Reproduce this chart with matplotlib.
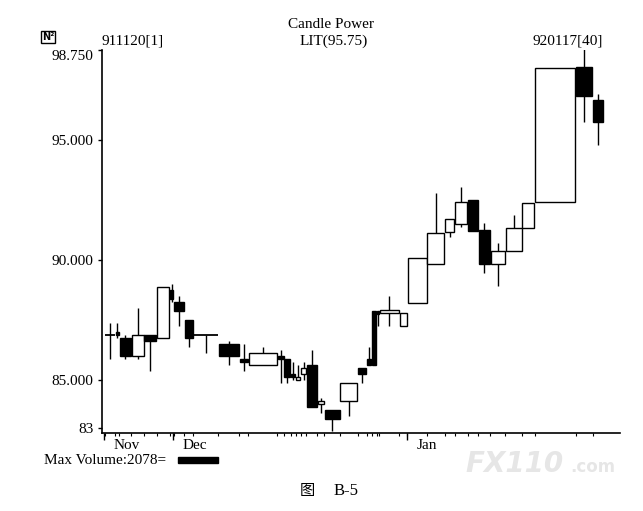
import numpy as np
import matplotlib.pyplot as plt
from matplotlib.patches import Rectangle
import matplotlib.transforms as mtransforms

# -------------------------------
# Data: LIT daily candles 911120 .. 920117 (40 sessions)
# -------------------------------
opens = [86.875, 87.0, 86.75, 86.0, 86.875, 86.75, 88.75, 88.25, 87.5, 86.875,
         86.5, 85.875, 85.625, 86.0, 85.875, 85.25, 85.0, 85.25, 85.625, 84.0,
         83.75, 84.125, 85.5, 85.875, 87.875, 87.875, 87.8, 87.25, 88.2, 89.83,
         91.18, 91.5, 92.5, 91.25, 89.83, 90.375, 91.35, 92.42, 98.03, 96.67]
highs = [87.375, 87.375, 86.875, 88.0, 86.875, 88.875, 89.0, 88.5, 87.5, 86.875,
         86.625, 86.5, 86.375, 86.25, 85.875, 85.75, 85.625, 85.75, 86.25, 84.25,
         83.75, 84.875, 85.5, 86.375, 87.875, 87.875, 88.5, 87.8, 90.1, 92.78,
         91.71, 93.03, 92.5, 91.53, 90.72, 91.875, 92.39, 98.0, 98.78, 96.9]
lows = [85.875, 86.75, 85.875, 85.875, 85.375, 86.75, 88.25, 87.25, 86.375, 86.125,
        85.625, 85.375, 85.625, 84.875, 84.875, 85.0, 85.0, 85.0, 83.875, 83.625,
        82.875, 83.5, 84.875, 85.625, 85.625, 87.25, 87.25, 87.25, 88.2, 89.83,
        90.94, 91.39, 91.22, 89.45, 88.92, 90.375, 91.35, 92.42, 95.76, 94.79]
closes = [86.875, 86.875, 86.0, 86.875, 86.625, 88.875, 88.375, 87.875, 86.75, 86.875,
          86.0, 85.75, 86.125, 85.875, 85.125, 85.125, 85.125, 85.5, 83.875, 84.125,
          83.375, 84.875, 85.25, 85.625, 85.625, 87.75, 87.92, 87.8, 90.1, 91.11,
          91.71, 92.4, 91.22, 89.83, 90.375, 91.35, 92.39, 98.0, 96.85, 95.75]
volumes = [520, 160, 570, 620, 620, 620, 160, 520, 420, 1250,
           1040, 420, 1460, 310, 310, 210, 210, 260, 520, 310,
           780, 880, 420, 210, 210, 100, 990, 360, 990, 880,
           470, 620, 520, 570, 730, 830, 620, 2078, 830, 520]

month_labels = ['Nov', 'Dec', 'Jan']
month_first = [0, 7, 28]          # first candle of each month
ytick_vals = [83, 85, 90, 95, 98.75]
ytick_labels = ['83', '85.000', '90.000', '95.000', '98.750']
max_volume = 2078

# -------------------------------
# Figure setup
# -------------------------------
W, H = 643, 511
plt.rcParams['font.family'] = ['Liberation Serif', 'Noto Sans CJK SC']
fig = plt.figure(figsize=(W / 100, H / 100), dpi=100, facecolor='white')
ax = fig.add_axes([102 / W, (H - 433) / H, (620 - 102) / W, (433 - 50) / H])

gap = 45     # space between candles (volume units)
px = 52      # volume units per pixel, roughly

# candle left edges
lefts = []
x = 0
for v in volumes:
    lefts.append(x)
    x += v + gap
total = x - gap

lw = 1.0
for i in range(len(volumes)):
    o, h, l, c, v = opens[i], highs[i], lows[i], closes[i], volumes[i]
    left = lefts[i]
    mid = left + v / 2
    ax.vlines(mid, l, h, color='black', lw=lw, zorder=2)
    if o == c:
        ax.hlines(o, left, left + v, color='black', lw=1.3, zorder=3)
    else:
        face = 'black' if c < o else 'white'
        ax.add_patch(Rectangle((left, min(o, c)), v, abs(c - o),
                               facecolor=face, edgecolor='black', lw=lw, zorder=3))

ax.set_xlim(-3 * px, total + 17 * px)
ax.set_ylim(82.79, 98.75)

for s in ['top', 'right']:
    ax.spines[s].set_visible(False)
for s in ['left', 'bottom']:
    ax.spines[s].set_linewidth(1.2)

# y axis
ax.set_yticks(ytick_vals, ytick_labels)
ax.tick_params(axis='y', direction='out', length=3, width=1, labelsize=11, pad=3)
ax.get_yticklabels()[-1].set_va('top')

# x axis: month ticks + one small tick per session
ax.set_xticks([lefts[k] - gap for k in month_first], month_labels)
ax.set_xticks([lf - gap / 2 for lf in lefts], minor=True)
ax.tick_params(axis='x', which='major', direction='out', length=5, width=1,
               labelsize=11, pad=-1)
ax.tick_params(axis='x', which='minor', direction='out', length=2, width=0.8)
offset = mtransforms.ScaledTranslation(7 / 72, 0, fig.dpi_scale_trans)
for lab in ax.get_xticklabels():
    lab.set_horizontalalignment('left')
    lab.set_transform(lab.get_transform() + offset)

# -------------------------------
# Header and footer texts
# -------------------------------
fs = 11
fig.text(331 / W, 1 - 25 / H, 'Candle Power', ha='center', va='center', fontsize=fs)
fig.text(334 / W, 1 - 41 / H, 'LIT(95.75)', ha='center', va='center', fontsize=fs)
fig.text(102 / W, 1 - 41 / H, '911120[1]', ha='left', va='center', fontsize=fs)
fig.text(603 / W, 1 - 41 / H, '920117[40]', ha='right', va='center', fontsize=fs)
fig.text(48 / W, 1 - 37 / H, 'N\u00b2', ha='center', va='center', fontsize=7,
         fontweight='bold', family='DejaVu Sans',
         bbox=dict(boxstyle='square,pad=0.1', fc='white', ec='black', lw=1))

fig.text(44 / W, 1 - 460 / H, 'Max Volume:%d=' % max_volume, ha='left', va='center',
         fontsize=fs)
# legend bar: width equals max volume on the chart's x scale
bar_x = ax.transData.inverted().transform(fig.transFigure.transform((178 / W, 0)))[0]
blend = mtransforms.blended_transform_factory(ax.transData, fig.transFigure)
fig.patches.append(Rectangle((bar_x, 1 - 463 / H), max_volume, 6 / H,
                             transform=blend, facecolor='black', edgecolor='black'))

# faint watermark
fig.text(465 / W, 1 - 464 / H, 'FX110', ha='left', va='center', fontsize=20,
         color='#e6e6e6', family='DejaVu Sans', fontweight='bold', style='italic')
fig.text(570 / W, 1 - 467 / H, '.com', ha='left', va='center', fontsize=12,
         color='#e6e6e6', family='DejaVu Sans', fontweight='bold')

fig.text(307 / W, 1 - 491 / H, '图', ha='center', va='center', fontsize=11)
fig.text(346 / W, 1 - 491 / H, 'B-5', ha='center', va='center', fontsize=12)

fig.savefig('out.png', dpi=100, facecolor='white')
